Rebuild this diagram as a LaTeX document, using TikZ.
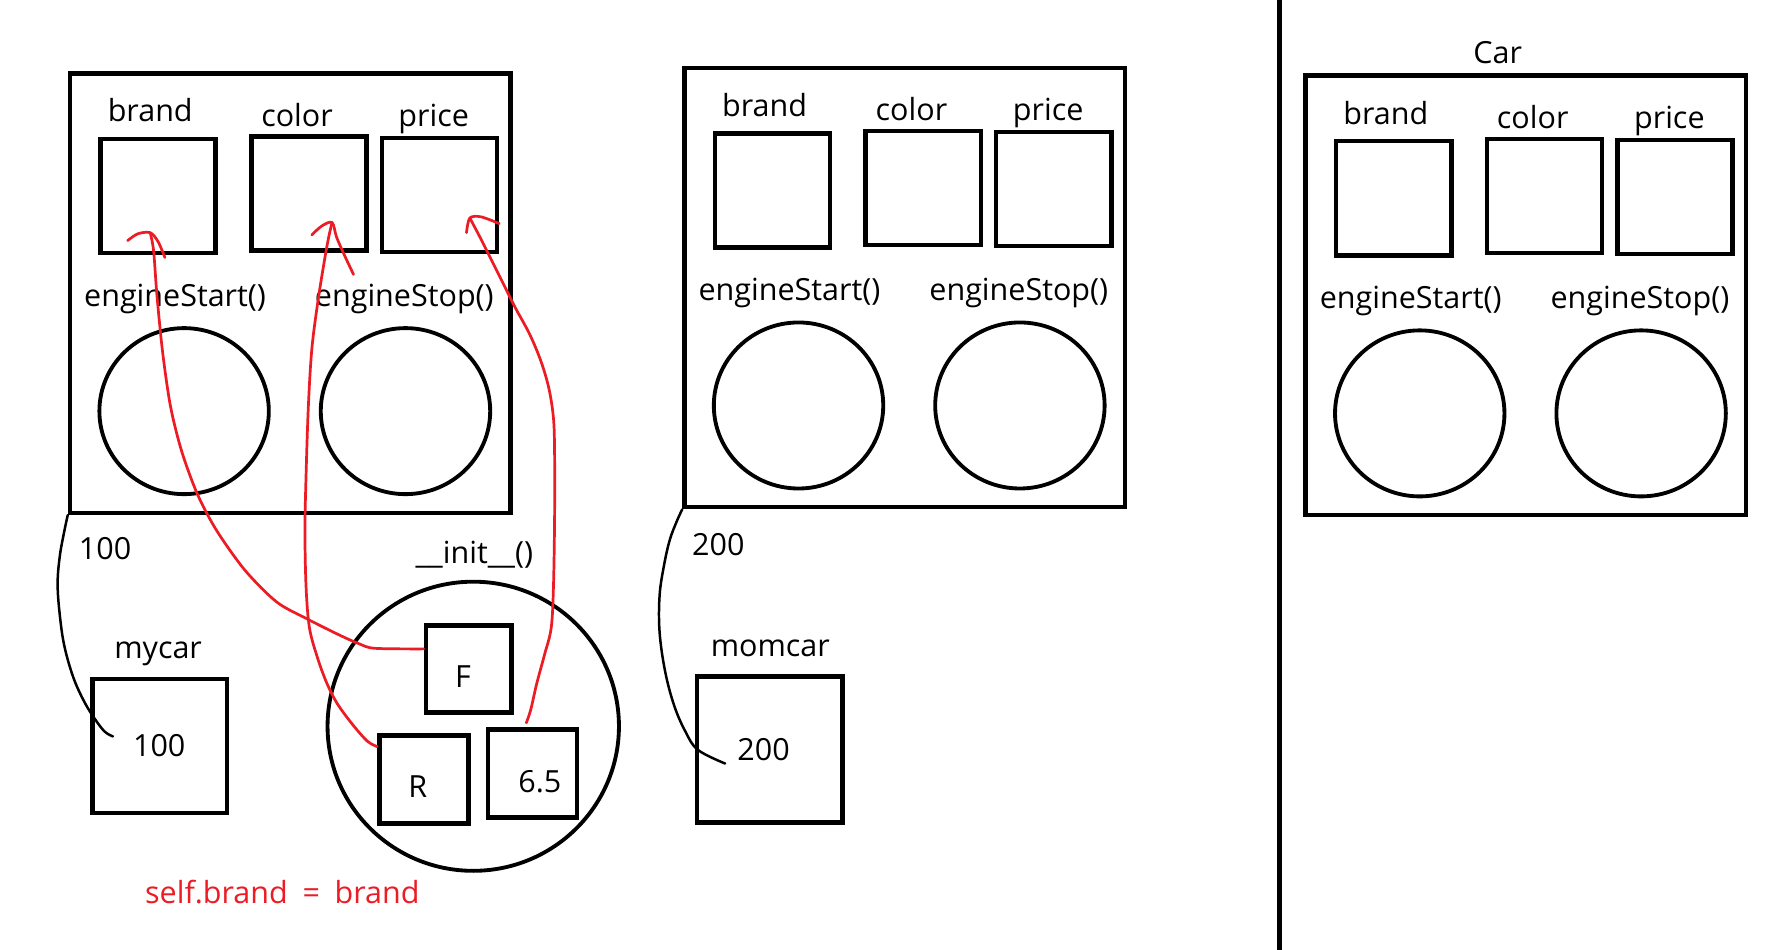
\documentclass[tikz,border=0pt]{standalone}
\usepackage{fontspec}
\setmainfont{Open Sans}
\usetikzlibrary{shapes.geometric}
\definecolor{pred}{RGB}{237,28,36}
\newcommand{\carobj}[3]{%
\begin{scope}[shift={(#2,#3)}]
\node[obj] (#1box) at (257,259.5) {};
\node[slot] (#1brand) at (140,173.5) {};
\node[slot] (#1color) at (273.5,171.5) {};
\node[slot] (#1price) at (389,172.5) {};
\node[lbl] (#1lbrand) at (133,108) {brand};
\node[lbl] (#1lcolor) at (263,112) {color};
\node[lbl] (#1lprice) at (384,112) {price};
\node[lbl] (#1lstart) at (155,271) {engineStart()};
\node[lbl] (#1lstop) at (358,271) {engineStop()};
\node[meth] (#1start) at (163,364) {};
\node[meth] (#1stop) at (359,364) {};
\end{scope}}
\begin{document}
\begin{tikzpicture}[x=0.5pt,y=-0.5pt,
 obj/.style={draw,line width=2pt,minimum width=195pt,minimum height=194.5pt,inner sep=0},
 slot/.style={draw,line width=2pt,minimum width=51pt,minimum height=50.5pt,inner sep=0},
 meth/.style={draw,ellipse,line width=1.7pt,minimum width=75pt,minimum height=73.5pt,inner sep=0},
 valbox/.style={draw,line width=2pt,inner sep=0},
 lbl/.style={font=\fontsize{13.5}{16}\selectfont,inner sep=0,anchor=base},
 redline/.style={draw=pred,line width=1.2pt,line cap=round,line join=round},
 refline/.style={draw=black,line width=1.1pt,line cap=round,line join=round}]
\useasboundingbox (0,0) rectangle (1568,841);
\fill[white] (0,0) rectangle (1568,841);

\carobj{a}{0}{0}
\carobj{b}{544}{-5}
\carobj{c}{1094}{2}
\node[lbl] (carlbl) at (1326,56) {Car};

% divider
\coordinate (divtop) at (1133,0);
\coordinate (divbot) at (1133,841);
\draw[line width=2pt] (divtop) -- (divbot);

% mycar
\node[lbl] (addr1) at (93,495) {100};
\node[lbl] (mycarlbl) at (140,583) {mycar};
\node[valbox,minimum width=59.5pt,minimum height=59.5pt] (mycar) at (141.5,660.5) {};
\node[lbl] (mycarval) at (141,670) {100};
\coordinate (mycarend) at (100,652);
\draw[refline] plot[smooth,tension=0.6] coordinates {(abox.south west) (57,470) (53,492) (51,517) (53,545) (57,572) (65,600) (75,622) (85,638) (93,648) (mycarend)};

% momcar
\node[lbl] (addr2) at (636,492) {200};
\node[lbl] (momcarlbl) at (682,581) {momcar};
\node[valbox,minimum width=64.5pt,minimum height=64.5pt] (momcar) at (681.5,663.5) {};
\node[lbl] (momcarval) at (676,673) {200};
\coordinate (momcarend) at (642,676);
\draw[refline] plot[smooth,tension=0.6] coordinates {(bbox.south west) (599,462) (593,478) (588,500) (584,527) (584,560) (589,595) (597,625) (607,648) (618,664) (momcarend)};

% __init__
\node[lbl] (initlbl) at (420,499) {\_\_init\_\_()};
\node[draw,ellipse,line width=1.7pt,minimum width=129pt,minimum height=128pt,inner sep=0] (init) at (419,643) {};
\node[valbox,minimum width=38pt,minimum height=38.5pt] (F) at (415,592.5) {};
\node[valbox,minimum width=39.5pt,minimum height=39pt] (R) at (375.5,690) {};
\node[valbox,minimum width=39.5pt,minimum height=39pt] (six) at (471.5,685) {};
\node[lbl] (Ft) at (410,609) {F};
\node[lbl] (Rt) at (370,706) {R};
\node[lbl] (sixt) at (478,702) {6.5};

% red arrows
\coordinate (t1) at (133,206);
\coordinate (t2) at (294,197);
\coordinate (t3) at (416,193);
\draw[redline] plot[smooth,tension=0.5] coordinates {([yshift=9pt]F.west) (332,574) (318,570) (300,562) (272,548) (245,533) (217,505) (192,470) (175,438) (161,400) (151,360) (144,312) (139,262) (136,222) (t1)};
\draw[redline] plot[smooth,tension=0.5] coordinates {(113,213) (122,207) (t1) (140,214) (146,228)};
\draw[redline] plot[smooth,tension=0.55] coordinates {([yshift=-6pt]R.north west) (325,656) (311,640) (298,622) (289,604) (281,582) (274,556) (271,520) (270,470) (271,420) (273,360) (276,310) (281,270) (287,232) (291,210) (t2)};
\draw[redline] plot[smooth,tension=0.5] coordinates {(276,208) (285,200) (t2) (298,210) (305,226) (313,243)};
\draw[redline] plot[smooth,tension=0.55] coordinates {([xshift=18pt,yshift=2pt]six.north west) (470,628) (475,606) (482,580) (488,556) (490,520) (491,460) (491,400) (490,370) (486,344) (479,320) (469,296) (456,272) (446,252) (436,232) (426,212) (t3)};
\draw[redline] plot[smooth,tension=0.5] coordinates {(413,206) (t3) (426,192) (442,198)};

\node[lbl,text=pred] (selfbrand) at (250,800) {self.brand\hspace{3pt} = \hspace{3pt}brand};
\end{tikzpicture}
\end{document}
